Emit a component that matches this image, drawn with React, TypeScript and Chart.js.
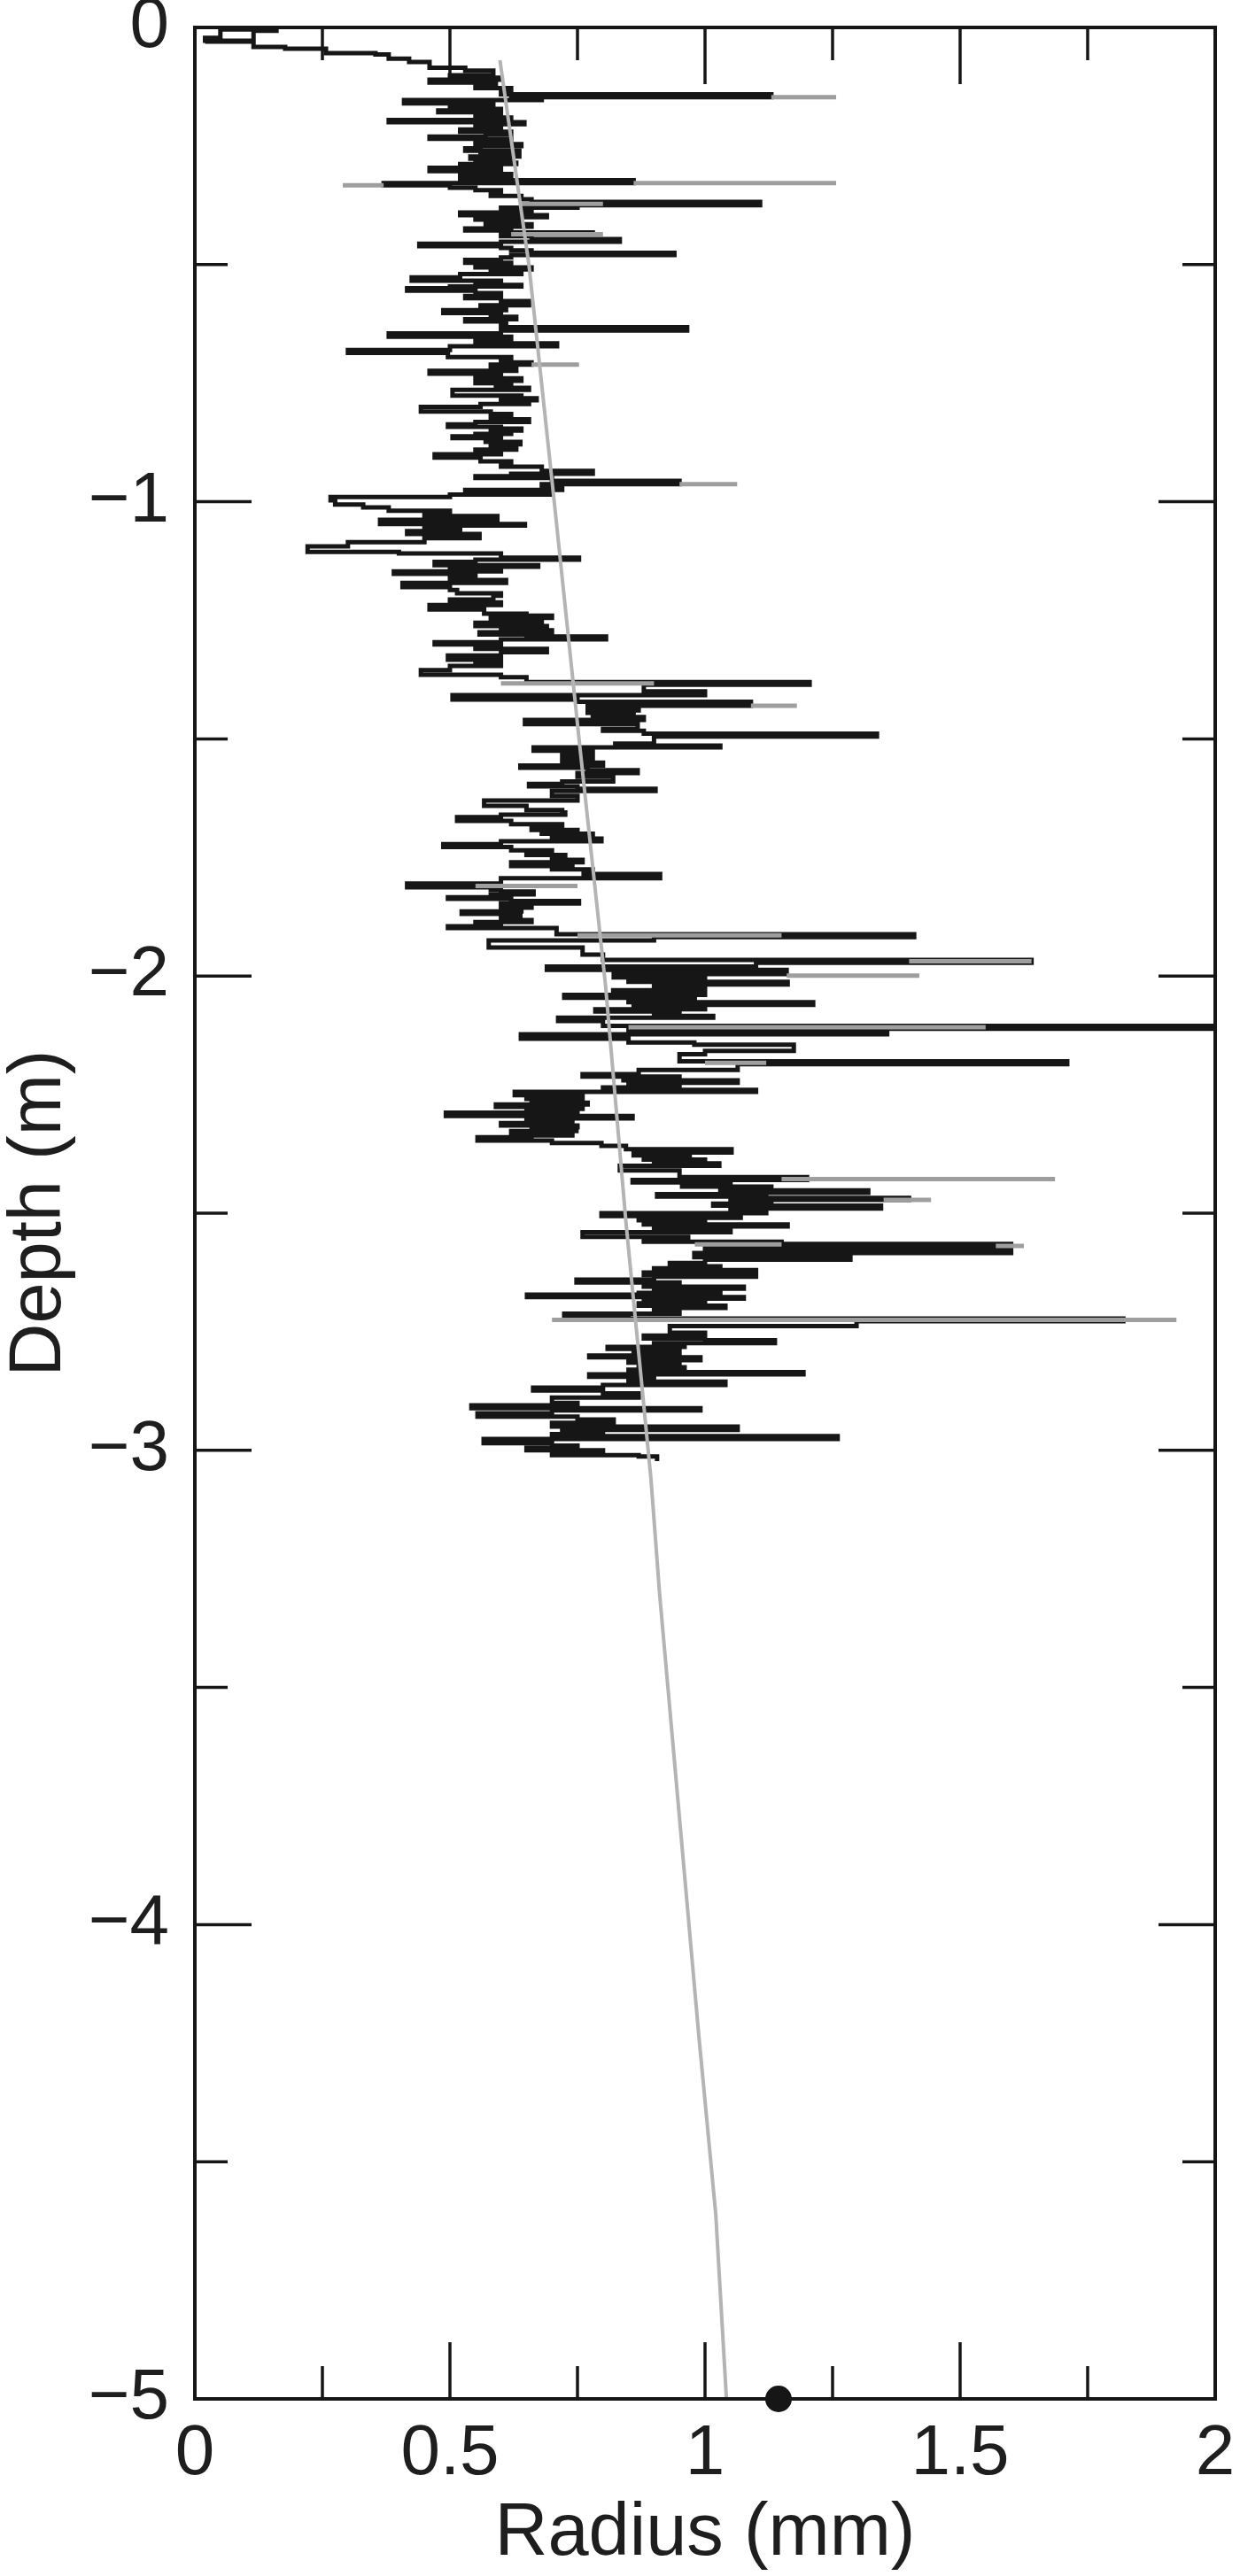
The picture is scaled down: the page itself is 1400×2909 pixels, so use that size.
import { useEffect, useRef } from 'react';
import { Chart, registerables } from 'chart.js';

Chart.register(...registerables);

const FONT = "'Liberation Sans', Arial, Helvetica, sans-serif";
const INK = '#161616';

// Axis ranges / tick values
const xTickValues = [0, 0.5, 1, 1.5, 2];
const yTickValues = [0, -1, -2, -3, -4, -5];
const xMarkValues = [0.25, 0.5, 0.75, 1, 1.25, 1.5, 1.75];
const yMarkValues = [-0.5, -1, -1.5, -2, -2.5, -3, -3.5, -4, -4.5];

// Measured radius profile: [radius (mm), depth (m)]
const profileA: [number, number][] = [
  [0.02, -0.03], [0.115, -0.007], [0.16, -0.004], [0.05, -0.022], [0.02, -0.028], [0.115, -0.041],
  [0.177, -0.045], [0.257, -0.054], [0.354, -0.057], [0.38, -0.066], [0.42, -0.073], [0.46, -0.085],
  [0.53, -0.091], [0.585, -0.101], [0.5, -0.106], [0.6, -0.11], [0.46, -0.116], [0.59, -0.123],
  [0.55, -0.128], [0.62, -0.133], [0.6, -0.141], [1.13, -0.147], [0.62, -0.15], [0.68, -0.153],
  [0.41, -0.16], [0.585, -0.166], [0.5, -0.172], [0.6, -0.175], [0.477, -0.179], [0.6, -0.184],
  [0.55, -0.19], [0.62, -0.195], [0.38, -0.2], [0.646, -0.204], [0.55, -0.21], [0.6, -0.215],
  [0.52, -0.22], [0.62, -0.225], [0.57, -0.23], [0.46, -0.235], [0.62, -0.241], [0.55, -0.246],
  [0.64, -0.25], [0.56, -0.255], [0.53, -0.26], [0.636, -0.265], [0.56, -0.268], [0.636, -0.272],
  [0.54, -0.277], [0.62, -0.281], [0.55, -0.285], [0.63, -0.288], [0.52, -0.291], [0.6, -0.296],
  [0.46, -0.303], [0.6, -0.306], [0.55, -0.309], [0.62, -0.312], [0.52, -0.315], [0.62, -0.318],
  [0.52, -0.322], [0.86, -0.328], [0.37, -0.333], [0.5, -0.338], [0.55, -0.343], [0.6, -0.348],
  [0.58, -0.355], [0.64, -0.362], [0.66, -0.368], [1.108, -0.375], [0.75, -0.38], [0.6, -0.385],
  [0.66, -0.39], [0.52, -0.396], [0.69, -0.4], [0.55, -0.405], [0.64, -0.41], [0.57, -0.415],
  [0.66, -0.42], [0.6, -0.424], [0.53, -0.428], [0.62, -0.432], [0.78, -0.436], [0.6, -0.44],
  [0.66, -0.446], [0.833, -0.452], [0.6, -0.456], [0.44, -0.461], [0.6, -0.465], [0.62, -0.47],
  [0.66, -0.475], [0.94, -0.48], [0.62, -0.485], [0.6, -0.49], [0.53, -0.496],
];
const profileB: [number, number][] = [
  [0.62, -0.502], [0.55, -0.506], [0.66, -0.51], [0.58, -0.515], [0.64, -0.52], [0.52, -0.527],
  [0.425, -0.534], [0.6, -0.54], [0.55, -0.543], [0.64, -0.546], [0.5, -0.55], [0.416, -0.555],
  [0.55, -0.56], [0.6, -0.566], [0.53, -0.571], [0.6, -0.577], [0.655, -0.586], [0.56, -0.59],
  [0.61, -0.596], [0.487, -0.602], [0.6, -0.606], [0.58, -0.61], [0.63, -0.615], [0.53, -0.62],
  [0.61, -0.626], [0.6, -0.632], [0.965, -0.639], [0.6, -0.645], [0.38, -0.652], [0.62, -0.66],
  [0.55, -0.666], [0.71, -0.672], [0.5, -0.68], [0.3, -0.686], [0.496, -0.695], [0.62, -0.7],
  [0.6, -0.706], [0.66, -0.711], [0.58, -0.718], [0.63, -0.724], [0.46, -0.73], [0.6, -0.736],
  [0.55, -0.74], [0.64, -0.745], [0.55, -0.75], [0.62, -0.755], [0.59, -0.76], [0.655, -0.764],
  [0.505, -0.776], [0.64, -0.779], [0.6, -0.782], [0.67, -0.786], [0.6, -0.79], [0.655, -0.794],
  [0.56, -0.8], [0.443, -0.81], [0.58, -0.815], [0.62, -0.822], [0.58, -0.826], [0.655, -0.832],
  [0.55, -0.837], [0.496, -0.842], [0.6, -0.846], [0.64, -0.85], [0.58, -0.853], [0.62, -0.857],
  [0.55, -0.862], [0.505, -0.866], [0.6, -0.87], [0.57, -0.874], [0.638, -0.879], [0.58, -0.886],
  [0.63, -0.89], [0.55, -0.896], [0.6, -0.9], [0.47, -0.907], [0.56, -0.915], [0.62, -0.92],
  [0.6, -0.926], [0.68, -0.935], [0.78, -0.941], [0.62, -0.946], [0.55, -0.95], [0.7, -0.956],
  [0.95, -0.963], [0.68, -0.97], [0.72, -0.975], [0.53, -0.982], [0.7, -0.985], [0.5, -0.99],
  [0.266, -0.997],
];
const profileC: [number, number][] = [
  [0.275, -1.006], [0.33, -1.012], [0.38, -1.019], [0.5, -1.025], [0.45, -1.03], [0.593, -1.038],
  [0.363, -1.047], [0.647, -1.05], [0.45, -1.058], [0.52, -1.062], [0.416, -1.068], [0.558, -1.077],
  [0.45, -1.085], [0.3, -1.094], [0.221, -1.106], [0.4, -1.109], [0.6, -1.118], [0.753, -1.122],
  [0.55, -1.127], [0.47, -1.134], [0.673, -1.137], [0.5, -1.142], [0.6, -1.147], [0.39, -1.152],
  [0.55, -1.16], [0.5, -1.165], [0.61, -1.171], [0.407, -1.18], [0.5, -1.186], [0.514, -1.193],
  [0.6, -1.198], [0.585, -1.206], [0.5, -1.212], [0.6, -1.218], [0.46, -1.227], [0.567, -1.236],
  [0.65, -1.24], [0.7, -1.245], [0.58, -1.25], [0.68, -1.255], [0.55, -1.262], [0.69, -1.268],
  [0.6, -1.271], [0.7, -1.275], [0.558, -1.28], [0.65, -1.284], [0.806, -1.29], [0.6, -1.296],
  [0.47, -1.301], [0.6, -1.307], [0.55, -1.31], [0.69, -1.317], [0.6, -1.324], [0.496, -1.333],
  [0.6, -1.338], [0.55, -1.342], [0.6, -1.346], [0.5, -1.355], [0.443, -1.365], [0.6, -1.37],
  [0.65, -1.38], [1.205, -1.386], [0.88, -1.4], [1.0, -1.408], [0.505, -1.417], [0.75, -1.422],
  [1.09, -1.43], [0.77, -1.436], [0.87, -1.44], [0.77, -1.445], [0.86, -1.45], [0.78, -1.454],
  [0.88, -1.46], [0.647, -1.469], [0.868, -1.479], [0.8, -1.483], [0.88, -1.489], [1.337, -1.495],
  [0.9, -1.5], [0.9, -1.51], [0.824, -1.514], [1.03, -1.518], [0.664, -1.525],
];
const profileD: [number, number][] = [
  [0.78, -1.532], [0.72, -1.538], [0.78, -1.542], [0.72, -1.55], [0.8, -1.556], [0.638, -1.561],
  [0.77, -1.566], [0.868, -1.572], [0.75, -1.58], [0.82, -1.59], [0.72, -1.595], [0.655, -1.6],
  [0.75, -1.605], [0.903, -1.61], [0.7, -1.62], [0.75, -1.63], [0.567, -1.641], [0.65, -1.65],
  [0.72, -1.655], [0.726, -1.66], [0.6, -1.665], [0.514, -1.673], [0.62, -1.68], [0.72, -1.688],
  [0.66, -1.692], [0.75, -1.697], [0.68, -1.7], [0.78, -1.705], [0.7, -1.71], [0.797, -1.716],
  [0.6, -1.722], [0.487, -1.728], [0.62, -1.735], [0.7, -1.74], [0.65, -1.745], [0.726, -1.75],
  [0.7, -1.755], [0.76, -1.76], [0.62, -1.768], [0.74, -1.772], [0.7, -1.775], [0.78, -1.78],
  [0.762, -1.785], [0.912, -1.794], [0.6, -1.805], [0.416, -1.813], [0.58, -1.818], [0.6, -1.822],
  [0.664, -1.828], [0.58, -1.834], [0.496, -1.837], [0.62, -1.842], [0.753, -1.847], [0.6, -1.852],
  [0.66, -1.856], [0.6, -1.86], [0.64, -1.864], [0.523, -1.869], [0.638, -1.878], [0.6, -1.882],
  [0.66, -1.886], [0.55, -1.89], [0.6, -1.895], [0.496, -1.899], [0.709, -1.912], [1.41, -1.918],
  [0.9, -1.925], [0.576, -1.94], [0.76, -1.955], [0.8, -1.966], [1.64, -1.972], [1.1, -1.98],
  [0.69, -1.987], [1.16, -1.996],
];
const profileE: [number, number][] = [
  [0.821, -2.003], [1.0, -2.008], [0.85, -2.012], [1.162, -2.018], [0.9, -2.024], [1.0, -2.03],
  [0.82, -2.035], [1.0, -2.04], [0.724, -2.046], [0.98, -2.05], [0.85, -2.055], [1.212, -2.061],
  [0.86, -2.066], [1.0, -2.07], [0.785, -2.075], [0.95, -2.08], [0.9, -2.084], [1.016, -2.088],
  [0.712, -2.095], [0.8, -2.105], [2.05, -2.111], [0.85, -2.118], [1.357, -2.123], [0.639, -2.132],
  [0.85, -2.14], [0.979, -2.145], [1.174, -2.158], [1.0, -2.165], [0.95, -2.18], [1.71, -2.186],
  [1.064, -2.198], [0.87, -2.207], [0.76, -2.212], [0.95, -2.216], [0.84, -2.22], [1.064, -2.225],
  [0.85, -2.23], [0.95, -2.235], [0.8, -2.24], [1.1, -2.244], [0.627, -2.251], [0.76, -2.255],
  [0.65, -2.259], [0.76, -2.263], [0.66, -2.267], [0.77, -2.271], [0.59, -2.276], [0.76, -2.28],
  [0.65, -2.284], [0.75, -2.288], [0.492, -2.295], [0.858, -2.3], [0.65, -2.305], [0.74, -2.31],
  [0.6, -2.315], [0.75, -2.319], [0.66, -2.323], [0.748, -2.327], [0.62, -2.332], [0.74, -2.336],
  [0.66, -2.34], [0.554, -2.347], [0.7, -2.352], [0.797, -2.358], [0.845, -2.365], [1.052, -2.372],
  [0.86, -2.378], [0.97, -2.382], [0.88, -2.387], [1.0, -2.392], [0.9, -2.395], [1.028, -2.4],
  [0.833, -2.41], [0.95, -2.424], [1.2, -2.43], [0.858, -2.435], [1.05, -2.44], [0.955, -2.444],
  [1.13, -2.448], [1.03, -2.452], [1.32, -2.457], [1.03, -2.46], [0.906, -2.465], [1.12, -2.468],
  [1.4, -2.472], [1.05, -2.476], [1.13, -2.48], [1.016, -2.484], [1.345, -2.49], [1.05, -2.495],
  [1.12, -2.5], [0.797, -2.506],
];
const profileF: [number, number][] = [
  [1.07, -2.51], [0.87, -2.515], [1.0, -2.52], [0.88, -2.524], [1.162, -2.528], [0.9, -2.535],
  [1.05, -2.54], [0.76, -2.55], [0.967, -2.555], [0.88, -2.56], [1.15, -2.565], [1.6, -2.569],
  [1.0, -2.578], [1.6, -2.584], [0.979, -2.593], [1.285, -2.598], [1.0, -2.605], [0.931, -2.612],
  [1.03, -2.616], [0.9, -2.62], [1.1, -2.625], [0.88, -2.63], [1.1, -2.634], [0.9, -2.64],
  [0.748, -2.646], [0.95, -2.65], [0.88, -2.655], [1.076, -2.659], [0.9, -2.664], [1.03, -2.668],
  [0.87, -2.672], [0.651, -2.677], [1.076, -2.68], [0.88, -2.685], [1.0, -2.69], [0.87, -2.695],
  [1.04, -2.7], [0.9, -2.706], [0.95, -2.712], [0.724, -2.718], [0.85, -2.722], [1.82, -2.728],
  [1.297, -2.738], [0.931, -2.752], [1.0, -2.758], [0.88, -2.764], [1.0, -2.768], [1.137, -2.774],
  [0.9, -2.778], [0.96, -2.782], [0.809, -2.786], [0.95, -2.79], [0.86, -2.795], [0.95, -2.8],
  [0.773, -2.804], [0.991, -2.81], [0.85, -2.815], [0.95, -2.82], [0.87, -2.825], [0.96, -2.83],
  [0.85, -2.835], [1.193, -2.84], [0.773, -2.845], [0.9, -2.85], [0.85, -2.855], [1.04, -2.862],
  [0.8, -2.868], [0.663, -2.874], [0.8, -2.88], [0.87, -2.889], [0.7, -2.9], [0.75, -2.905],
  [0.542, -2.911], [0.991, -2.916], [0.7, -2.922], [0.554, -2.929], [0.75, -2.935], [0.821, -2.942],
  [0.7, -2.95], [1.064, -2.957], [0.72, -2.962], [0.8, -2.966], [0.7, -2.97], [1.26, -2.976],
  [0.566, -2.985], [0.7, -2.99], [0.75, -2.995], [0.65, -3.0], [0.8, -3.005], [0.7, -3.01],
  [0.87, -3.013], [0.906, -3.023],
];

// Lighter-grey overlapping trace pieces: [radius from, radius to, depth]
const greySegments: [number, number, number][] = [
  [1.13, 1.257, -0.147], [0.64, 0.8, -0.372], [0.86, 1.257, -0.328], [0.29, 0.37, -0.333],
  [0.62, 0.8, -0.436], [0.66, 0.753, -0.711], [0.95, 1.063, -0.963], [0.6, 0.9, -1.383],
  [1.09, 1.18, -1.43], [0.75, 1.15, -1.914], [1.4, 1.64, -1.969], [1.16, 1.42, -1.999],
  [0.85, 1.55, -2.108], [1.0, 1.12, -2.183], [1.15, 1.686, -2.428], [1.35, 1.443, -2.472],
  [0.98, 1.15, -2.566], [1.57, 1.625, -2.569], [0.7, 1.924, -2.725], [0.55, 0.75, -1.81],
];

// Fitted trend: [radius (mm), depth (m)]
const trend: [number, number][] = [
  [0.598, -0.069], [0.655, -0.502], [0.705, -1.006], [0.755, -1.52], [0.805, -2.02],
  [0.845, -2.519], [0.894, -3.06], [0.911, -3.303], [0.988, -4.236], [1.021, -4.61], [1.042, -5],
];

// Single marker
const markerRadius = [1.144];
const markerDepth = [-5];

const framePlugin = {
  id: 'frameTicks',
  afterDatasetsDraw(chart: any) {
    const { ctx, chartArea, scales } = chart;
    const { left, right, top, bottom } = chartArea;
    const xs = scales.x;
    const ys = scales.y;
    ctx.save();
    ctx.strokeStyle = INK;
    ctx.lineCap = 'butt';
    ctx.lineWidth = 3.5;
    const line = (x1: number, y1: number, x2: number, y2: number) => {
      ctx.beginPath();
      ctx.moveTo(x1, y1);
      ctx.lineTo(x2, y2);
      ctx.stroke();
    };
    xMarkValues.forEach((v) => {
      const px = xs.getPixelForValue(v);
      const len = Math.abs(v * 2 - Math.round(v * 2)) < 1e-6 ? 64 : 37;
      line(px, bottom, px, bottom - len);
      line(px, top, px, top + len);
    });
    yMarkValues.forEach((v) => {
      const py = ys.getPixelForValue(v);
      const len = Math.abs(v - Math.round(v)) < 1e-6 ? 64 : 37;
      line(left, py, left + len, py);
      line(right, py, right - len, py);
    });
    ctx.lineWidth = 4;
    ctx.strokeRect(left, top, right - left, bottom - top);
    ctx.restore();
  },
};

export default function App() {
  const ref = useRef<HTMLCanvasElement>(null);
  useEffect(() => {
    document.body.style.margin = '0';
    const canvas = ref.current;
    if (!canvas) return;
    const toPts = (arr: [number, number][]) => arr.map(([x, y]) => ({ x, y }));
    const profile = toPts([...profileA, ...profileB, ...profileC, ...profileD, ...profileE, ...profileF]);
    const grey: { x: number; y: number | null }[] = [];
    greySegments.forEach(([r1, r2, d]) => {
      grey.push({ x: r1, y: d }, { x: r2, y: d }, { x: r2, y: null });
    });
    const marker = markerRadius.map((r, i) => ({ x: r, y: markerDepth[i] }));

    const chart = new Chart(canvas, {
      type: 'scatter',
      data: {
        datasets: [
          {
            label: 'trend', data: toPts(trend), showLine: true, borderColor: '#b4b4b4',
            borderWidth: 4, pointRadius: 0, order: 0,
          },
          {
            label: 'marker', data: marker, pointRadius: 15, pointBackgroundColor: INK,
            pointBorderWidth: 0, clip: false as any, order: 0,
          },
          {
            label: 'grey', data: grey as any, showLine: true, spanGaps: false, borderColor: '#9e9e9e',
            borderWidth: 5, pointRadius: 0, order: 1,
          },
          {
            label: 'profile', data: profile, showLine: true, stepped: 'before', borderColor: INK,
            borderWidth: 5, pointRadius: 0, borderJoinStyle: 'miter', order: 2,
          },
        ],
      } as any,
      options: {
        responsive: false,
        animation: false,
        devicePixelRatio: 1,
        events: [],
        layout: { padding: { left: 0, right: 28, top: 31, bottom: 0 } },
        plugins: { legend: { display: false }, tooltip: { enabled: false } },
        scales: {
          x: {
            type: 'linear', min: xTickValues[0], max: xTickValues[xTickValues.length - 1],
            afterBuildTicks: (s: any) => { s.ticks = xTickValues.map((v) => ({ value: v })); },
            grid: { display: false, drawTicks: false }, border: { display: false },
            ticks: {
              font: { family: FONT, size: 80 }, color: '#1e1e1e', padding: 15, maxRotation: 0,
              autoSkip: false, callback: (v: any) => String(v),
            },
            title: {
              display: true, text: 'Radius (mm)', color: '#1e1e1e',
              font: { family: FONT, size: 83, lineHeight: 1 }, padding: { top: 0, bottom: 5 },
            },
            afterFit: (s: any) => { s.height = 200; s.paddingLeft = 0; s.paddingRight = 0; },
          },
          y: {
            type: 'linear', min: yTickValues[yTickValues.length - 1], max: yTickValues[0],
            afterBuildTicks: (s: any) => { s.ticks = yTickValues.map((v) => ({ value: v })); },
            grid: { display: false, drawTicks: false }, border: { display: false },
            ticks: {
              font: { family: FONT, size: 80 }, color: '#1e1e1e', padding: 29, autoSkip: false,
              callback: (v: any) => (Number(v) === 0 ? '0' : '\u2212' + Math.abs(Number(v))),
            },
            title: {
              display: true, text: 'Depth (m)', color: '#1e1e1e',
              font: { family: FONT, size: 83, lineHeight: 1 }, padding: { top: 4, bottom: 0 },
            },
            afterFit: (s: any) => { s.width = 220; s.paddingTop = 0; s.paddingBottom = 0; },
          },
        },
      } as any,
      plugins: [framePlugin],
    });
    return () => chart.destroy();
  }, []);
  return (
    <div style={{ width: 1400, height: 2909 }}>
      <canvas ref={ref} width={1400} height={2909} style={{ display: 'block' }} />
    </div>
  );
}
